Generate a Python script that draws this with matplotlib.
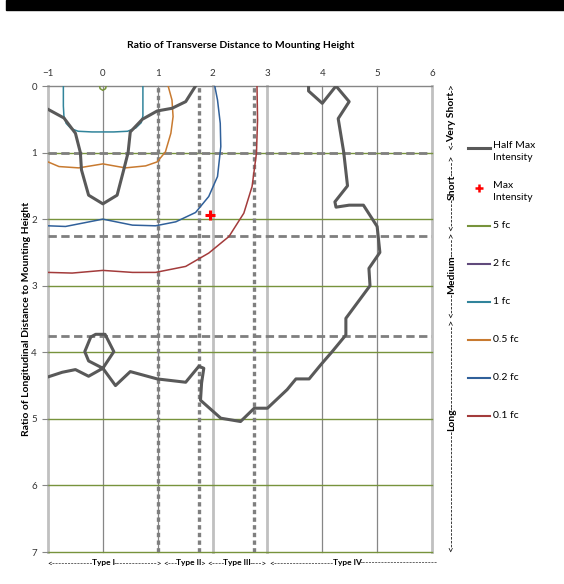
import matplotlib
matplotlib.use('Agg')
import matplotlib.pyplot as plt
from matplotlib.lines import Line2D
from matplotlib.patches import Rectangle

plt.rcParams['font.family'] = ['Lato', 'DejaVu Sans']

# axis ticks
x_ticks = [-1, 0, 1, 2, 3, 4, 5, 6]
y_ticks = [0, 1, 2, 3, 4, 5, 6, 7]

# IES classification boundaries
type_bounds_x = [1, 1.75, 2.75]
range_bounds_y = [1, 2.25, 3.75]
type_names = ['Type I', 'Type II', 'Type III', 'Type IV']
range_names = ['Long', 'Medium', 'Short', 'Very Short']

# half max intensity trace (two pieces)
half_max_a_x = [-1.0, -0.71, -0.50, -0.41, -0.39, -0.26, 0.0, 0.26, 0.38, 0.46, 0.50, 0.72, 0.99, 1.26, 1.51, 1.69]
half_max_a_y = [0.35, 0.48, 0.71, 1.0, 1.26, 1.64, 1.77, 1.64, 1.26, 1.0, 0.69, 0.50, 0.375, 0.335, 0.235, 0.0]

half_max_b_x = [-1.0, -0.74, -0.50, -0.26, 0.0, 0.20, 0.04, -0.13, -0.22, -0.33, -0.26, 0.0, 0.23, 0.50,
                0.99, 1.51, 1.75, 1.84, 1.80, 1.78, 2.15, 2.51, 2.76, 3.0, 3.36, 3.52, 3.76, 3.97, 4.18,
                4.43, 4.43, 4.87, 4.85, 5.05, 5.0, 4.75, 4.49, 4.25, 4.23, 4.46, 4.39, 4.29, 4.49, 4.25,
                4.0, 3.75, 3.75]
half_max_b_y = [4.37, 4.30, 4.26, 4.36, 4.24, 3.99, 3.73, 3.73, 3.77, 3.99, 4.13, 4.24, 4.50, 4.29,
                4.40, 4.45, 4.21, 4.24, 4.46, 4.72, 4.99, 5.04, 4.84, 4.84, 4.56, 4.40, 4.40, 4.19, 3.99,
                3.74, 3.49, 3.0, 2.74, 2.5, 2.11, 1.79, 1.79, 1.82, 1.74, 1.5, 0.99, 0.49, 0.235, 0.0,
                0.26, 0.075, 0.0]

max_x = [1.95]
max_y = [1.94]

# iso-footcandle lines
fc5_x = [-0.06, -0.05, 0.0, 0.05, 0.06]
fc5_y = [0.0, 0.04, 0.065, 0.04, 0.0]

fc2_x = []
fc2_y = []

fc1_x = [-0.72, -0.72, -0.71, -0.67, -0.58, -0.45, -0.2, 0.0, 0.2, 0.45, 0.60, 0.70, 0.73, 0.73, 0.73]
fc1_y = [0.0, 0.30, 0.45, 0.56, 0.64, 0.68, 0.69, 0.69, 0.69, 0.68, 0.63, 0.55, 0.45, 0.30, 0.0]

fc05_x = [-1.0, -0.80, -0.44, 0.0, 0.41, 0.78, 0.99, 1.14, 1.24, 1.28, 1.26, 1.19]
fc05_y = [1.14, 1.21, 1.23, 1.17, 1.23, 1.20, 1.14, 0.99, 0.71, 0.46, 0.21, 0.0]

fc02_x = [-1.0, -0.68, 0.0, 0.54, 0.96, 1.33, 1.69, 1.93, 2.09, 2.15, 2.14, 2.09, 2.04]
fc02_y = [2.10, 2.11, 2.0, 2.09, 2.10, 2.04, 1.90, 1.66, 1.36, 0.91, 0.56, 0.21, 0.0]

fc01_x = [-1.0, -0.56, 0.0, 0.54, 0.96, 1.51, 1.93, 2.30, 2.57, 2.72, 2.80, 2.82, 2.81]
fc01_y = [2.80, 2.81, 2.77, 2.80, 2.80, 2.71, 2.51, 2.26, 1.91, 1.51, 1.01, 0.51, 0.0]

legend_labels = ['Half Max\nIntensity', 'Max\nIntensity', '5 fc', '2 fc', '1 fc', '0.5 fc', '0.2 fc', '0.1 fc']

c_half = '#595959'
c_max = '#FF0000'
c_5 = '#77933C'
c_2 = '#604A7B'
c_1 = '#31849B'
c_05 = '#C87A30'
c_02 = '#30609A'
c_01 = '#A33B3B'
c_grid = '#868686'
c_light = '#C0C0C0'
c_bound = '#7F7F7F'

W, H = 564, 584
fig = plt.figure(figsize=(W / 100, H / 100), dpi=100)
ax = fig.add_axes([48 / W, 1 - 552 / H, 384 / W, 466 / H])
renderer = fig.canvas.get_renderer()

# black band at the very top
fig.patches.append(Rectangle((6 / W, 1 - 10 / H), 1, 10 / H, transform=fig.transFigure,
                             color='black', zorder=0))

# grid
for x in x_ticks:
    if x in (-1, 2, 3, 6):
        ax.axvline(x, color=c_light, lw=2, zorder=1, clip_on=False)
    else:
        ax.axvline(x, color=c_grid, lw=0.9, zorder=1, clip_on=False)
for y in y_ticks[1:]:
    ax.axhline(y, color=c_5, lw=1, zorder=1, clip_on=False)
ax.axhline(0, color=c_grid, lw=1, zorder=1, clip_on=False)

# classification boundaries
for x in type_bounds_x:
    ax.axvline(x, color=c_bound, lw=2.4, ls=(0, (1.3, 1.0)), zorder=2)
for y in range_bounds_y:
    ax.axhline(y, color=c_bound, lw=2, ls=(0, (3, 1.6)), zorder=2)

# data
ax.plot(fc01_x, fc01_y, color=c_01, lw=1.1, zorder=3)
ax.plot(fc02_x, fc02_y, color=c_02, lw=1.1, zorder=3)
ax.plot(fc05_x, fc05_y, color=c_05, lw=1.1, zorder=3)
ax.plot(fc1_x, fc1_y, color=c_1, lw=1.1, zorder=3)
ax.plot(fc2_x, fc2_y, color=c_2, lw=1.1, zorder=3)
ax.plot(fc5_x, fc5_y, color=c_5, lw=1.1, zorder=3)
ax.plot(half_max_a_x, half_max_a_y, color=c_half, lw=2.2, zorder=4)
ax.plot(half_max_b_x, half_max_b_y, color=c_half, lw=2.2, zorder=4)
ax.plot(max_x, max_y, ls='none', marker='+', ms=7, mew=2.2, color=c_max, zorder=5)

ax.set_xlim(-1, 6)
ax.set_ylim(7, 0)
ax.set_xticks(x_ticks)
ax.set_yticks(y_ticks)
ax.xaxis.tick_top()
ax.tick_params(axis='x', length=0, pad=6, labelsize=7, labelcolor='#333333')
ax.tick_params(axis='y', length=4, color=c_grid, pad=4, labelsize=7, labelcolor='#333333')
for s in ax.spines.values():
    s.set_visible(False)

fig.text(241 / W, 1 - 45 / H, 'Ratio of Transverse Distance to Mounting Height',
         ha='center', va='center', fontsize=7.5, fontweight='bold')
fig.text(27 / W, 1 - 319 / H, 'Ratio of Longitudinal Distance to Mounting Height',
         ha='center', va='center', rotation=90, fontsize=7.5, fontweight='bold')


def text_width(s, size, weight='normal'):
    t = fig.text(0, 0, s, fontsize=size, fontweight=weight)
    w = t.get_window_extent(renderer).width
    t.remove()
    return w


def arrow_label(word, start, center, end, size, pos, vertical=False, close=True):
    # bold word with '<----' and '---->' filling start..end (pixels along the label)
    wd = text_width('-', size)
    wa = text_width('<', size)
    ww = text_width(word, size, 'bold')
    n1 = round((abs(center - start) - ww / 2 - wa) / wd)
    n2 = round((abs(end - center) - ww / 2 - (wa if close else 0)) / wd)
    left = '<' + '-' * max(n1, 0)
    right = '-' * max(n2, 0) + ('>' if close else '')
    half = ww / 2 - 1.5
    if vertical:
        x = pos / W
        kw = dict(rotation=90, ha='center', fontsize=size)
        fig.text(x, 1 - (center + half) / H, left, va='top', **kw)
        fig.text(x, 1 - center / H, word, va='center', fontweight='bold', **kw)
        fig.text(x, 1 - (center - half) / H, right, va='bottom', **kw)
    else:
        y = 1 - pos / H
        kw = dict(va='center', fontsize=size)
        fig.text((center - half) / W, y, left, ha='right', **kw)
        fig.text(center / W, y, word, ha='center', fontweight='bold', **kw)
        fig.text((center + half) / W, y, right, ha='left', **kw)


# bottom type labels (pixel spans)
bottom_spans = [(47, 103, 163), (163, 189, 207), (207, 237, 268), (268, 347, 440)]
for i, (name, (a, c, b)) in enumerate(zip(type_names, bottom_spans)):
    arrow_label(name, a, c, b, 6, 563, close=(i < 3))

# right range labels
right_spans = [(552, 420, 318), (318, 275, 232), (232, 187, 152), (152, 117, 82)]
for name, (a, c, b) in zip(range_names, right_spans):
    arrow_label(name, a, c, b, 7.5, 452, vertical=True)

# legend
legend_styles = [
    dict(color=c_half, lw=2.2),
    dict(color=c_max, marker='+', ms=6, mew=1.8, ls='none'),
    dict(color=c_5, lw=1.5),
    dict(color=c_2, lw=1.5),
    dict(color=c_1, lw=1.5),
    dict(color=c_05, lw=1.5),
    dict(color=c_02, lw=1.5),
    dict(color=c_01, lw=1.5),
]
legend_rows = [148, 188, 226, 264, 302, 340, 378, 416]
for lab, st, ypx in zip(legend_labels, legend_styles, legend_rows):
    yf = 1 - ypx / H
    if st.get('marker'):
        fig.add_artist(Line2D([479 / W], [yf], transform=fig.transFigure, **st))
    else:
        fig.add_artist(Line2D([468 / W, 490 / W], [yf, yf], transform=fig.transFigure, **st))
    if '\n' in lab:
        fig.text(493 / W, yf + 7 / H, lab, ha='left', va='top', fontsize=7.5, linespacing=1.45)
    else:
        fig.text(493 / W, yf, lab, ha='left', va='center', fontsize=7.5)

fig.savefig('out.png', dpi=100)
